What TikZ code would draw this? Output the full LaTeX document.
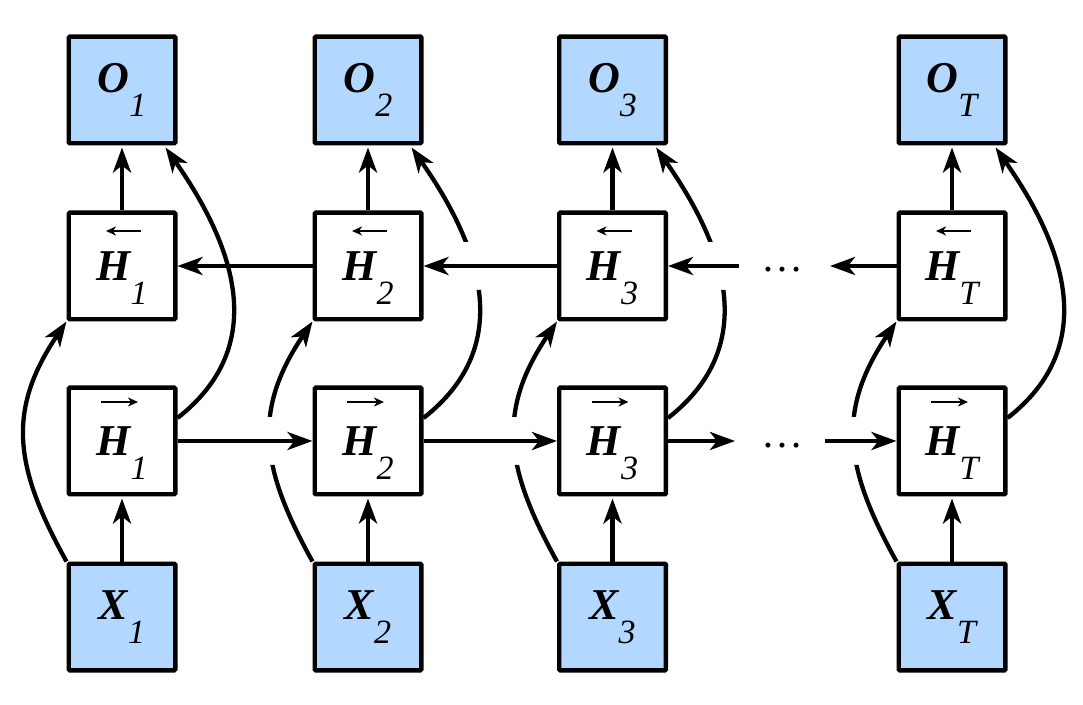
\documentclass[tikz,border=0pt]{standalone}
\usepackage{fontspec}
\setmainfont{Liberation Serif}
\usetikzlibrary{arrows.meta}
\definecolor{boxblue}{RGB}{178,216,255}
\newcommand\mainL[1]{{\fontsize{44}{44}\selectfont\bfseries\itshape #1}}
\newcommand\subL[1]{\raisebox{-24pt}{\fontsize{34}{34}\selectfont\itshape #1}}
\newcommand\lblA[2]{\mainL{#1}\subL{#2}}
\newcommand\lblH[1]{\rule{0pt}{54pt}\mainL{H}\subL{#1}}
\begin{document}
\begin{tikzpicture}[x=1pt,y=1pt,
  cell/.style={draw, line width=4.3pt, minimum size=106.7pt, inner sep=0pt, rounded corners=1pt},
  iocell/.style={cell, fill=boxblue},
  conn/.style={line width=4.3pt, -{Stealth[length=25pt,width=18pt,inset=7pt]}},
  vconn/.style={conn, shorten >=2pt},
  accR/.style={line width=2pt, -{Stealth[length=10pt,width=9pt,inset=3pt]}},
  accL/.style={line width=2pt, {Stealth[length=10pt,width=9pt,inset=3pt]}-},
  dotsnode/.style={inner sep=0pt, font=\fontsize{42}{42}\selectfont},
  upcurve/.style={conn, out=119, in=-124, looseness=1.15},
  outcurve/.style={conn, out=38, in=-55, looseness=1.12},
]
\useasboundingbox (0,0) rectangle (1083,704);

\foreach \n/\xx in {1/122, 2/368, 3/612.5, T/952} {
  \node[iocell] (o\n)  at (\xx,614) {\lblA{O}{\n}};
  \node[cell]   (hb\n) at (\xx,438) {\lblH{\n}};
  \node[cell]   (hf\n) at (\xx,263) {\lblH{\n}};
  \node[iocell] (x\n)  at (\xx,87)  {\lblA{X}{\n}};
  \draw[accL] ([xshift=-16pt,yshift=35pt]hb\n.center) -- ([xshift=19pt,yshift=35pt]hb\n.center);
  \draw[accR] ([xshift=-21pt,yshift=39pt]hf\n.center) -- ([xshift=16pt,yshift=39pt]hf\n.center);
  \draw[vconn] (x\n.north) -- (hf\n.south);
  \draw[vconn] (hb\n.north) -- (o\n.south);
}

\node[dotsnode] (dotsf) at (782,258) {…};
\node[dotsnode] (dotsb) at (782,434) {…};
\coordinate (fa) at (735,263);
\coordinate (fb) at (825,263);
\coordinate (ba) at (739,438);
\coordinate (bb) at (830,438);

% forward row
\draw[conn] (hf1.east) -- (hf2.west);
\draw[conn] (hf2.east) -- (hf3.west);
\draw[conn] (hf3.east) -- (fa);
\draw[conn] (fb) -- (hfT.west);
% backward row
\draw[conn] (hb2.west) -- (hb1.east);
\draw[conn] (hb3.west) -- (hb2.east);
\draw[conn] (ba) -- (hb3.east);
\draw[conn] (hbT.west) -- (bb);

% curves without gaps
\draw[upcurve] (x1.north west) to (hb1.south west);
\draw[outcurve] ([yshift=23pt]hf1.east) to ([xshift=-12pt,yshift=-2pt]o1.south east);
\draw[outcurve] ([yshift=23pt]hfT.east) to ([xshift=-12pt,yshift=-2pt]oT.south east);

% curves passing behind the forward row
\begin{scope}
  \clip (0,0) rectangle (1083,239) (0,287) rectangle (1083,704);
  \draw[upcurve] (x2.north west) to (hb2.south west);
  \draw[upcurve] (x3.north west) to (hb3.south west);
  \draw[upcurve] (xT.north west) to (hbT.south west);
\end{scope}
% curves passing behind the backward row
\begin{scope}
  \clip (0,0) rectangle (1083,414) (0,462) rectangle (1083,704);
  \draw[outcurve] ([yshift=23pt]hf2.east) to ([xshift=-12pt,yshift=-2pt]o2.south east);
  \draw[outcurve] ([yshift=23pt]hf3.east) to ([xshift=-12pt,yshift=-2pt]o3.south east);
\end{scope}
\end{tikzpicture}
\end{document}
